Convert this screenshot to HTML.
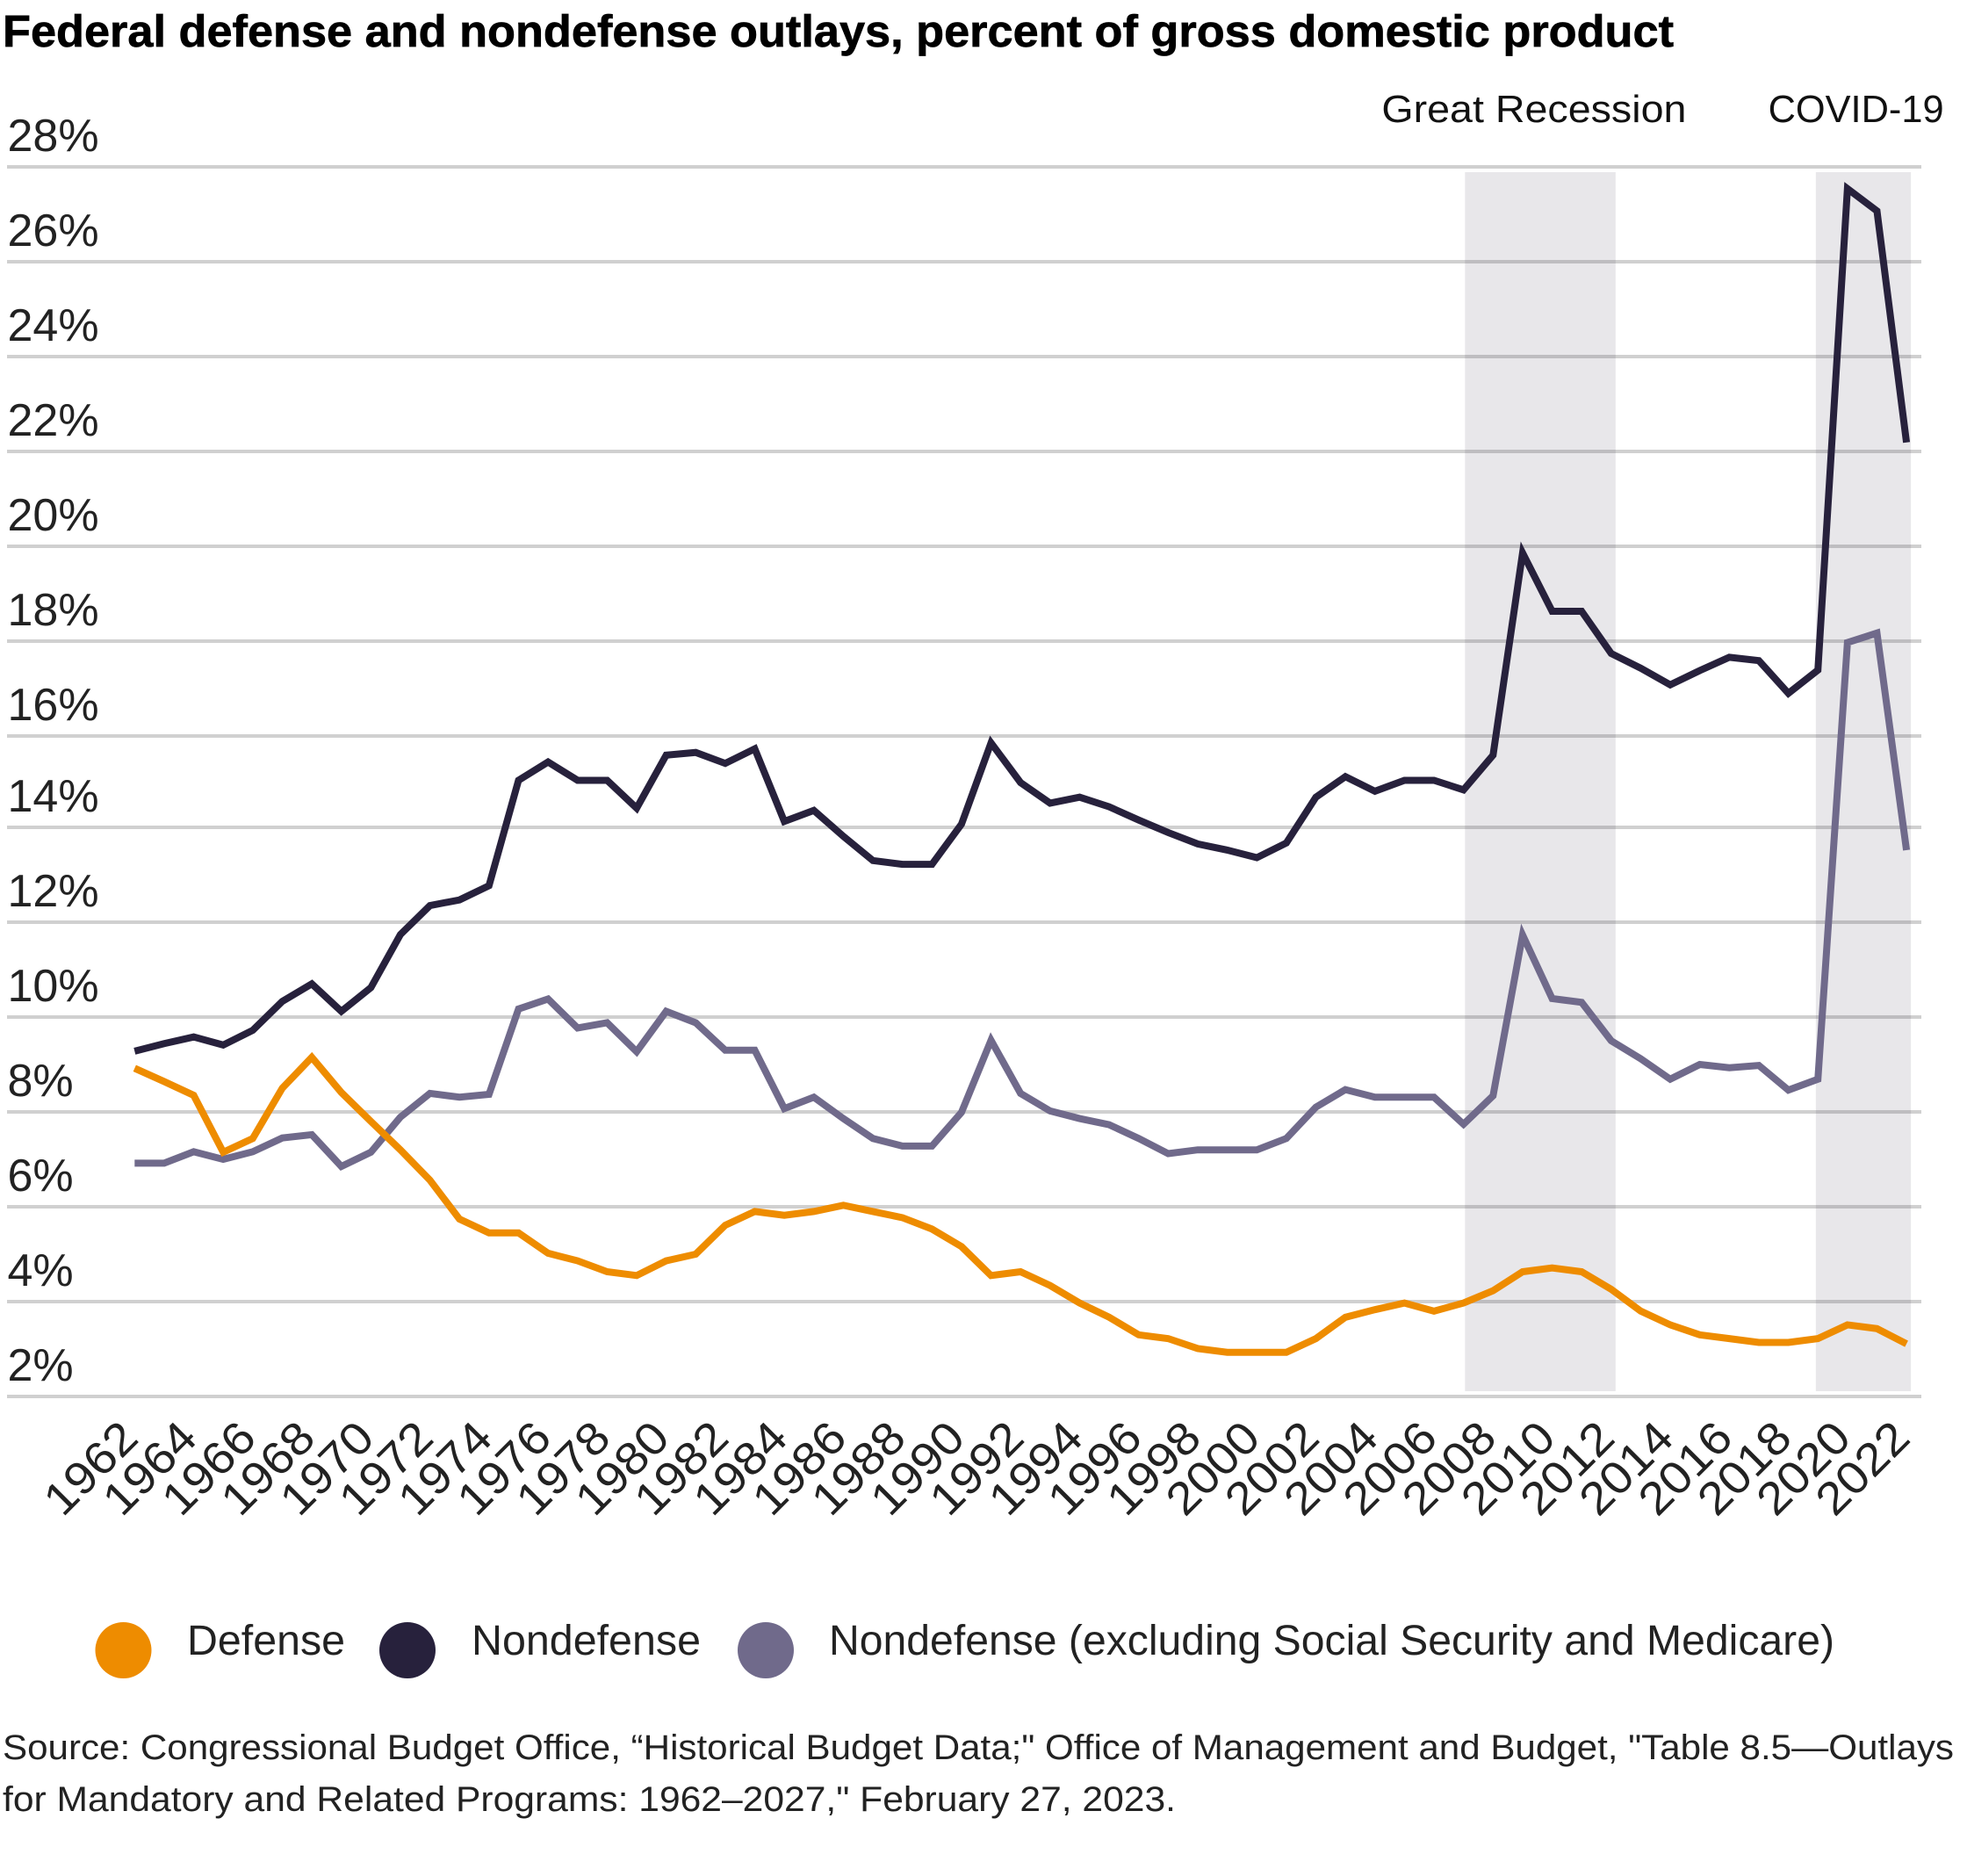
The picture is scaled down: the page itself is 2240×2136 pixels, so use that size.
<!DOCTYPE html>
<html lang="en">
<head>
<meta charset="utf-8">
<title>Federal defense and nondefense outlays</title>
<style>
html,body{margin:0;padding:0;background:#fff;width:2240px;height:2136px;overflow:hidden}
svg{display:block;font-family:"Liberation Sans",sans-serif}
</style>
</head>
<body>
<svg id="chart" xmlns="http://www.w3.org/2000/svg" width="2240" height="2136" viewBox="0 0 2240 2136">
  <rect width="2240" height="2136" fill="#fff"/>
  <text x="3" y="53" font-size="51" font-weight="700" fill="#000" stroke="#000" stroke-width="0.7" textLength="1903" lengthAdjust="spacingAndGlyphs">Federal defense and nondefense outlays, percent of gross domestic product</text>
  <g id="grid"></g>
  <g id="bands"></g>
  <g id="ylabels"></g>
  <g id="xlabels"></g>
  <g id="lines"></g>
  <text x="1573.4" y="139" font-size="44" fill="#111" textLength="347" lengthAdjust="spacingAndGlyphs">Great Recession</text>
  <text x="2013.6" y="139" font-size="44" fill="#111" textLength="200" lengthAdjust="spacingAndGlyphs">COVID-19</text>
  <g>
    <circle cx="140.5" cy="1879" r="32" fill="#EE8C00"/>
    <text x="213" y="1884" font-size="48" fill="#222" textLength="180" lengthAdjust="spacingAndGlyphs">Defense</text>
    <circle cx="464" cy="1879" r="32" fill="#27213C"/>
    <text x="537" y="1884" font-size="48" fill="#222" textLength="261" lengthAdjust="spacingAndGlyphs">Nondefense</text>
    <circle cx="872" cy="1879" r="32" fill="#706A8B"/>
    <text x="944" y="1884" font-size="48" fill="#222" textLength="1145" lengthAdjust="spacingAndGlyphs">Nondefense (excluding Social Security and Medicare)</text>
  </g>
  <g>
    <text x="3" y="2003" font-size="40" fill="#222" textLength="2222" lengthAdjust="spacingAndGlyphs">Source: Congressional Budget Office, “Historical Budget Data;" Office of Management and Budget, "Table 8.5—Outlays</text>
    <text x="3" y="2062" font-size="40" fill="#222" textLength="1336" lengthAdjust="spacingAndGlyphs">for Mandatory and Related Programs: 1962–2027," February 27, 2023.</text>
  </g>
</svg>
<script>
var years = [1962,1963,1964,1965,1966,1967,1968,1969,1970,1971,1972,1973,1974,1975,1976,1977,1978,1979,1980,1981,1982,1983,1984,1985,1986,1987,1988,1989,1990,1991,1992,1993,1994,1995,1996,1997,1998,1999,2000,2001,2002,2003,2004,2005,2006,2007,2008,2009,2010,2011,2012,2013,2014,2015,2016,2017,2018,2019,2020,2021,2022];
var defenseValues = [8.92,8.64,8.35,7.15,7.44,8.5,9.15,8.41,7.8,7.2,6.56,5.74,5.45,5.45,5.02,4.86,4.63,4.55,4.86,5.0,5.61,5.9,5.82,5.9,6.03,5.9,5.77,5.53,5.16,4.55,4.63,4.34,3.97,3.67,3.3,3.22,3.01,2.93,2.93,2.93,3.22,3.67,3.83,3.97,3.8,3.97,4.23,4.63,4.71,4.63,4.26,3.8,3.51,3.3,3.22,3.14,3.14,3.22,3.51,3.43,3.11];
var nondefenseValues = [9.28,9.44,9.58,9.41,9.72,10.33,10.7,10.12,10.62,11.74,12.35,12.47,12.77,15.03,15.43,15.03,15.03,14.42,15.58,15.64,15.4,15.72,14.13,14.37,13.81,13.3,13.22,13.22,14.07,15.85,14.98,14.53,14.66,14.45,14.16,13.89,13.65,13.52,13.36,13.67,14.66,15.11,14.79,15.03,15.03,14.82,15.58,19.86,18.63,18.63,17.74,17.43,17.08,17.38,17.66,17.59,16.9,17.39,27.54,27.07,22.19];
var nondefenseExcludingValues = [6.92,6.92,7.16,7.0,7.16,7.45,7.52,6.85,7.15,7.89,8.39,8.31,8.37,10.17,10.38,9.77,9.88,9.27,10.12,9.88,9.3,9.3,8.07,8.31,7.86,7.44,7.28,7.28,7.99,9.51,8.39,8.02,7.86,7.73,7.44,7.12,7.2,7.2,7.2,7.44,8.1,8.47,8.31,8.31,8.31,7.74,8.34,11.73,10.39,10.31,9.5,9.12,8.69,9.0,8.93,8.98,8.46,8.69,17.97,18.17,13.52];
var yTickValues = [28,26,24,22,20,18,16,14,12,10,8,6,4,2];
var yTickLabels = ["28%","26%","24%","22%","20%","18%","16%","14%","12%","10%","8%","6%","4%","2%"];
var xTickYears = [1962,1964,1966,1968,1970,1972,1974,1976,1978,1980,1982,1984,1986,1988,1990,1992,1994,1996,1998,2000,2002,2004,2006,2008,2010,2012,2014,2016,2018,2020,2022];
var bandStartYears = [2007.05,2018.93];
var bandEndYears = [2012.15,2022.15];

var NS = 'http://www.w3.org/2000/svg';
function xScale(year){ return 153.3 + (year - 1962) * 33.63; }
function yScale(v){
  if (v >= 16) return 190 + (28 - v) * 54;
  if (v <= 14) return 1590 - (v - 2) * 54;
  return 838 + (16 - v) * 52;
}
function make(tag, parentId, attrs){
  var el = document.createElementNS(NS, tag);
  for (var k in attrs) el.setAttribute(k, attrs[k]);
  document.getElementById(parentId).appendChild(el);
  return el;
}

yTickValues.forEach(function(v, i){
  var line = make('rect', 'grid', {x: 8, y: yScale(v) - 2, width: 2180, height: 4, fill: '#d0d0d0'});
  
  
  var label = make('text', 'ylabels', {x: 8.5, y: yScale(v) - 18, 'font-size': 52, fill: '#222'});
  label.textContent = yTickLabels[i];
  
  
});

bandStartYears.forEach(function(start, i){
  var band = make('rect', 'bands', {x: xScale(start), y: 196, width: xScale(bandEndYears[i]) - xScale(start), height: 1388, fill: 'rgb(39,33,60)', 'fill-opacity': 0.105});
  
  
});

xTickYears.forEach(function(year){
  var px = xScale(year) + 6.5;
  var label = make('text', 'xlabels', {x: px, y: 1640, 'font-size': 52, fill: '#222', 'text-anchor': 'end', textLength: 125, lengthAdjust: 'spacingAndGlyphs', transform: 'rotate(-45 ' + px + ' 1640)'});
  label.textContent = String(year);
  
  
});

function drawSeries(values, color){
  var d = values.map(function(v, i){
    return (i ? 'L' : 'M') + xScale(years[i]).toFixed(2) + ' ' + yScale(v).toFixed(2);
  }).join(' ');
  return make('path', 'lines', {d: d, fill: 'none', stroke: color, 'stroke-width': 8, 'stroke-linejoin': 'miter', 'stroke-miterlimit': 10, 'stroke-linecap': 'butt'});
}
var exLine = drawSeries(nondefenseExcludingValues, '#706A8B');


var ndLine = drawSeries(nondefenseValues, '#27213C');


var defLine = drawSeries(defenseValues, '#EE8C00');


</script>
</body>
</html>
